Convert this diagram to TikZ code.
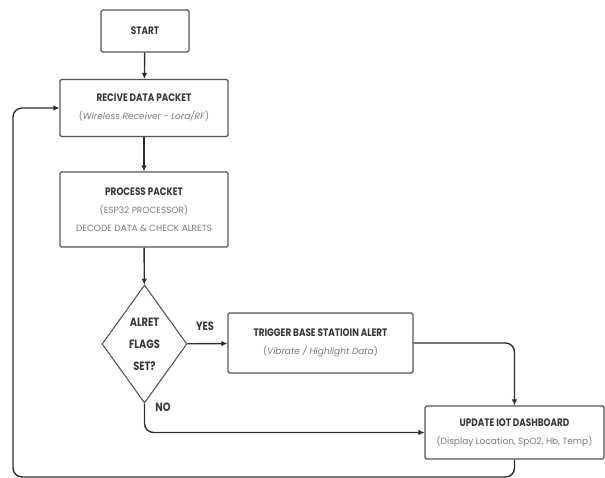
\documentclass[tikz,border=0pt]{standalone}
\usepackage{fontspec}
\setmainfont{Poppins}
\newfontfamily\headfont{Poppins}[FakeStretch=0.82]
\usetikzlibrary{arrows.meta,shapes.geometric}
\definecolor{linegray}{HTML}{2E2E2E}
\definecolor{boxgray}{HTML}{555555}
\definecolor{headgray}{HTML}{383838}
\definecolor{subgray}{HTML}{7A7A7A}
\newcommand{\hd}[1]{{\headfont\bfseries\fontsize{10.8}{12}\selectfont\color{headgray}#1}}
\newcommand{\subtxt}[1]{{\fontsize{9}{10}\selectfont\color{subgray}#1}}
\newcommand{\subit}[1]{{\fontsize{9}{10}\selectfont\color{subgray}(\textit{#1})}}

\begin{document}
\begin{tikzpicture}[x=1pt,y=-1pt,
  box/.style={draw=boxgray,line width=1.1pt,rounded corners=1.5pt,align=center,
    inner sep=0pt,font=\fontsize{7}{18}\selectfont},
  flow/.style={-{Latex[length=6pt,width=5.5pt]},line width=1.4pt,draw=linegray,
    rounded corners=9pt}]
\useasboundingbox (0,0) rectangle (605,478);
% boxes
\node[box,minimum width=88pt,minimum height=42pt] (start) at (145,31) {\hd{START}};
\node[box,minimum width=168pt,minimum height=57pt] (recv) at (144,108)
  {\hd{RECIVE DATA PACKET}\\ \subit{Wireless Receiver - Lora/RF}};
\node[box,minimum width=168pt,minimum height=75pt] (proc) at (144,209.5)
  {\hd{PROCESS PACKET}\\ \subtxt{(ESP32 PROCESSOR)}\\ \subtxt{DECODE DATA \& CHECK ALRETS}};
\node[draw=boxgray,line width=1.1pt,diamond,inner sep=0pt,minimum width=85pt,
  minimum height=118pt,align=center,font=\fontsize{9}{22}\selectfont] (alert) at (144.5,344)
  {\hd{\fontsize{12}{13}\selectfont ALRET}\\ \hd{\fontsize{12}{13}\selectfont FLAGS}\\
   \hd{\fontsize{12}{13}\selectfont SET?}};
\node[box,minimum width=185pt,minimum height=60pt] (trigger) at (320.5,343)
  {\hd{TRIGGER BASE STATIOIN ALERT}\\ \subit{Vibrate / Highlight Data}};
\node[box,minimum width=179pt,minimum height=53pt] (update) at (514.5,432.5)
  {\hd{UPDATE IOT DASHBOARD}\\ \subtxt{(Display Location, SpO2, Hb, Temp)}};
% labels
\node (yes) at (205,326) {\hd{\fontsize{12}{13}\selectfont YES}};
\node (no) at (163,407) {\hd{\fontsize{12}{13}\selectfont NO}};
% arrows
\coordinate (corner) at (13,477);
\draw[flow] (start) -- (recv);
\draw[flow] (recv) -- (proc);
\draw[flow] (proc) -- (alert);
\draw[flow] (alert) -- (trigger);
\draw[flow] (trigger) -| (update);
\draw[flow] (alert) |- (update);
\draw[flow] (update) |- (corner) |- (recv);
\end{tikzpicture}
\end{document}
